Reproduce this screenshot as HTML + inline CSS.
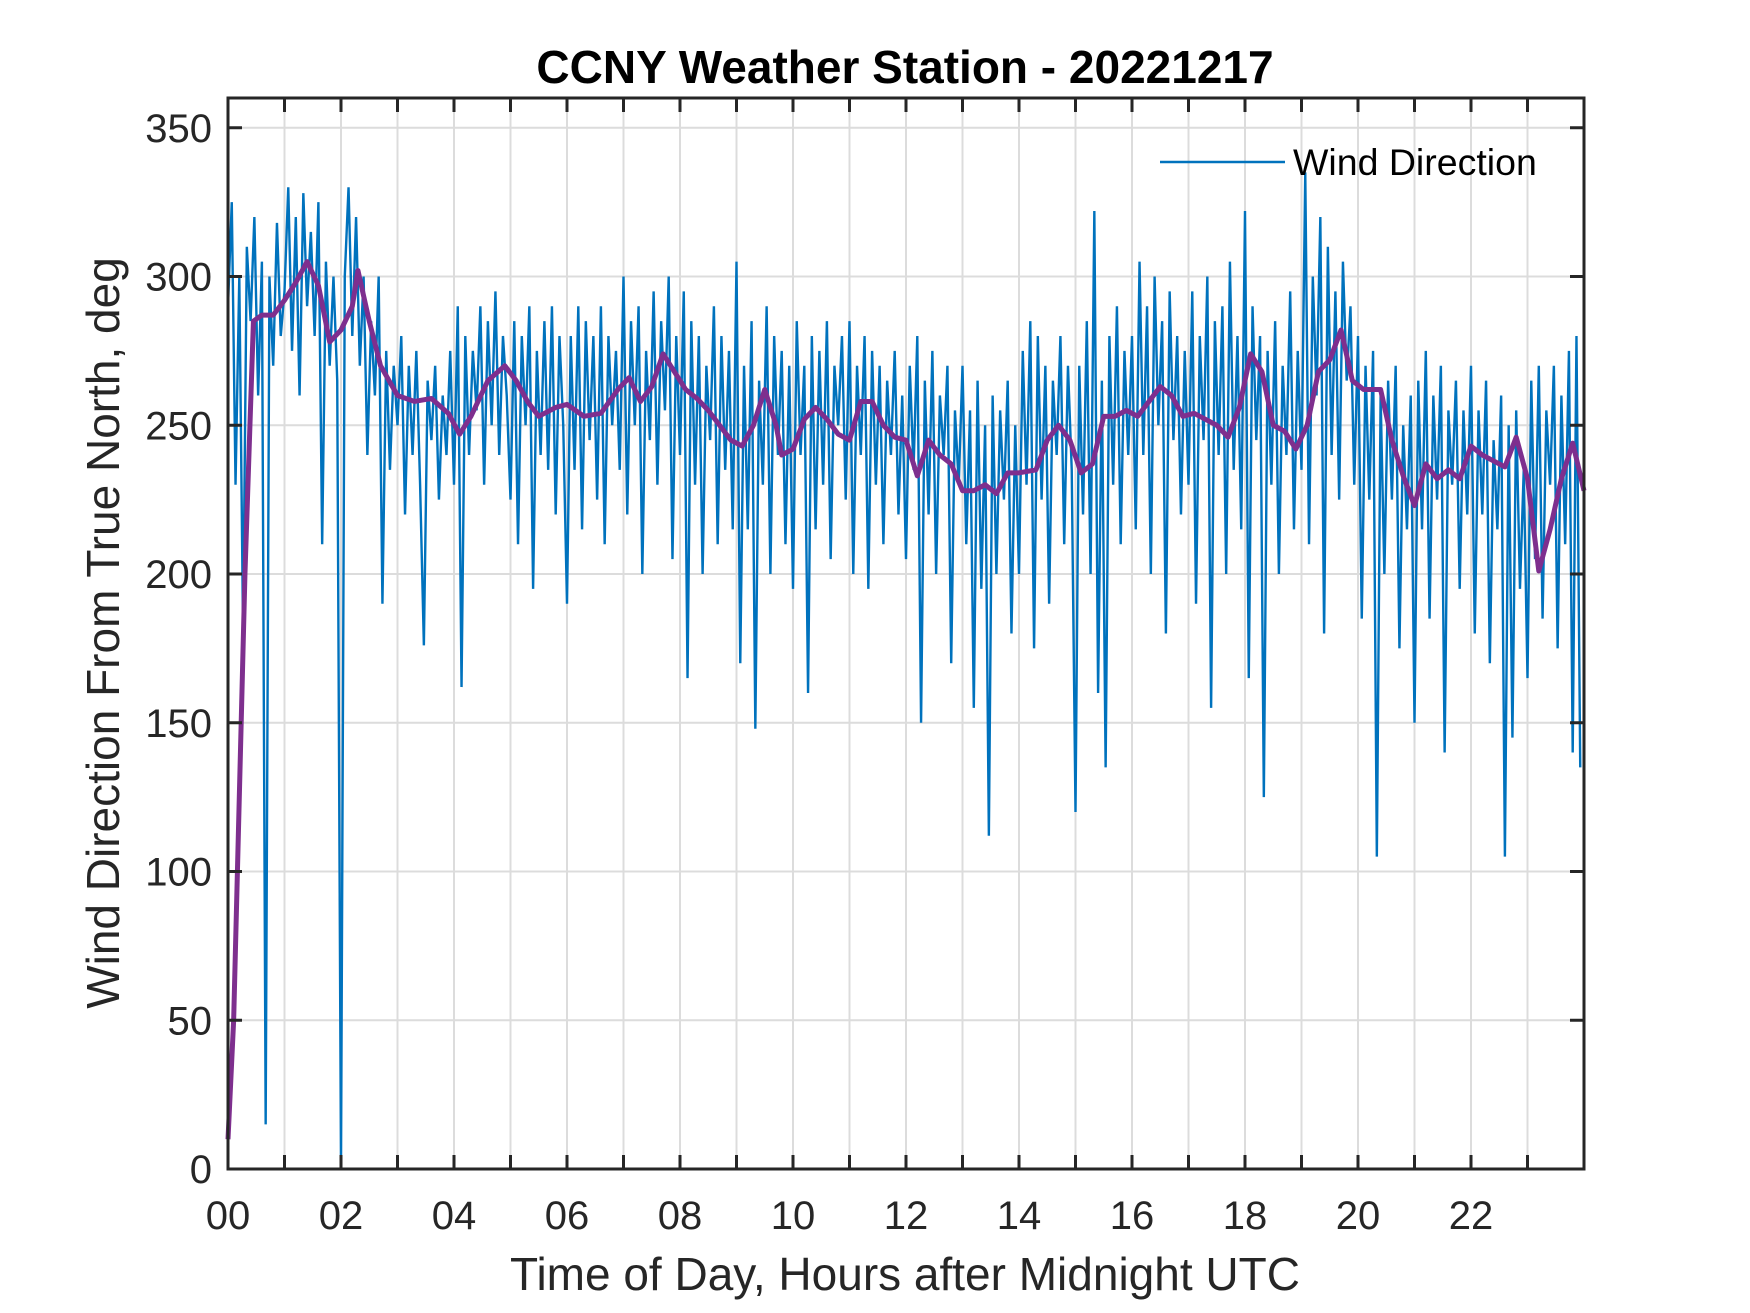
<!DOCTYPE html>
<html><head><meta charset="utf-8"><style>
html,body{margin:0;padding:0;background:#fff}
svg{display:block;font-family:"Liberation Sans",Arial,sans-serif}
</style></head><body>
<svg id="chart" width="1750" height="1313" viewBox="0 0 1750 1313">
<rect width="1750" height="1313" fill="#fff"/>
<g id="grid"></g>
<g id="series"></g>
<g id="axes"></g>
<text x="905" y="83" text-anchor="middle" font-size="46" font-weight="bold" fill="#000">CCNY Weather Station - 20221217</text>
<text x="905" y="1290" text-anchor="middle" font-size="46" fill="#262626">Time of Day, Hours after Midnight UTC</text>
<text transform="translate(119,633) rotate(-90)" text-anchor="middle" font-size="46" fill="#262626">Wind Direction From True North, deg</text>
<g>
<line x1="1160" y1="162" x2="1285" y2="162" stroke="#0072BD" stroke-width="2.5"/>
<text x="1293" y="175" font-size="37.5" fill="#000">Wind Direction</text>
</g>
</svg>
<script>
const xTickLabels=["00","02","04","06","08","10","12","14","16","18","20","22"];
const yTickLabels=[0,50,100,150,200,250,300,350];
const windRaw=[
290,325,230,300,180,310,285,320,260,305,15,300,270,318,280,
295,330,275,320,260,328,290,315,280,325,210,305,270,300,265,
0,300,330,280,320,270,300,240,285,260,300,190,275,235,270,
250,280,220,270,240,275,230,176,265,245,270,225,260,240,275,
230,290,162,280,240,275,255,290,230,285,250,295,240,280,260,
225,285,210,280,250,290,195,275,240,285,235,290,220,280,250,
190,280,235,290,215,285,245,280,225,290,210,280,250,275,235,
300,220,285,250,290,200,275,245,295,230,285,255,300,205,280,
240,295,165,285,230,280,200,270,245,290,210,280,235,275,215,
305,170,270,215,285,148,265,230,290,200,280,240,275,210,270,
195,285,240,270,160,280,215,275,230,285,205,270,250,280,225,
285,200,270,240,280,195,275,230,270,210,265,240,275,220,260,
205,270,235,280,150,265,220,275,200,260,240,270,170,255,230,
270,210,255,155,265,195,250,112,260,200,255,225,265,180,250,
200,275,230,285,175,280,225,270,190,265,240,280,210,270,235,
120,270,220,285,200,322,160,265,135,280,230,290,210,275,240,
280,215,305,240,290,200,300,250,285,180,295,245,280,220,275,
230,295,190,280,245,300,155,285,240,290,200,305,235,280,215,
322,165,290,245,280,125,275,230,285,200,270,240,295,215,275,
235,335,210,300,260,320,180,310,240,295,225,305,265,290,230,
280,185,270,225,275,105,260,200,265,225,270,175,250,215,260,
150,265,215,275,185,260,225,270,140,255,230,265,195,255,220,
270,180,255,220,265,170,245,215,260,105,250,145,255,195,235,
165,265,205,270,185,255,230,270,175,260,210,275,140,280,135];
const avgHours=[0,0.1,0.3,0.45,0.6,0.8,1,1.2,1.4,1.6,1.8,2,2.2,2.3,2.5,2.7,3,3.3,3.6,3.9,4.1,4.3,4.6,4.9,5.1,5.3,5.5,5.8,6,6.3,6.6,6.9,7.1,7.3,7.5,7.7,7.9,8.1,8.3,8.5,8.7,8.9,9.1,9.3,9.5,9.7,9.8,10,10.2,10.4,10.6,10.8,11,11.2,11.4,11.6,11.8,12,12.2,12.4,12.6,12.8,13,13.2,13.4,13.6,13.8,14,14.3,14.5,14.7,14.9,15.1,15.3,15.5,15.7,15.9,16.1,16.3,16.5,16.7,16.9,17.1,17.3,17.5,17.7,17.9,18.1,18.3,18.5,18.7,18.9,19.1,19.3,19.5,19.7,19.9,20.1,20.4,20.6,20.8,21,21.2,21.4,21.6,21.8,22,22.2,22.4,22.6,22.8,23,23.2,23.4,23.6,23.8,24];
const avgValues=[10,50,200,285,287,287,292,298,305,297,278,282,290,302,285,270,260,258,259,254,247,253,265,270,265,258,253,256,257,253,254,262,266,258,263,274,268,262,259,255,250,245,243,250,262,250,240,242,252,256,252,247,245,258,258,250,246,245,233,245,240,237,228,228,230,227,234,234,235,245,250,245,234,237,253,253,255,253,258,263,260,253,254,252,250,246,256,274,268,250,248,242,250,268,272,282,265,262,262,245,233,223,237,232,235,232,243,240,238,236,246,232,201,215,232,244,228];

const NS="http://www.w3.org/2000/svg";
const L=228,R=1584,T=98,B=1169;
const xs=h=>L+(h/24)*(R-L);
const ys=v=>B-(v/360)*(B-T);
const grid=document.getElementById('grid'),axes=document.getElementById('axes'),series=document.getElementById('series');
function mk(tag,attrs,parent){const e=document.createElementNS(NS,tag);for(const k in attrs)e.setAttribute(k,attrs[k]);parent.appendChild(e);return e;}
for(let h=1;h<24;h++){
  const g=mk('line',{x1:xs(h),x2:xs(h),y1:T,y2:B,stroke:'#dcdcdc','stroke-width':2},grid);
  
  
}
yTickLabels.forEach(v=>{
  if(v>0){const g=mk('line',{x1:L,x2:R,y1:ys(v),y2:ys(v),stroke:'#dcdcdc','stroke-width':2},grid);
  
  }
  const t=mk('text',{x:L-16,y:ys(v)+14,'text-anchor':'end','font-size':40,fill:'#262626'},axes);
  t.textContent=v;
  
  
  [[L,L+14],[R,R-14]].forEach(p=>{const k=mk('line',{x1:p[0],x2:p[1],y1:ys(v),y2:ys(v),stroke:'#262626','stroke-width':3},axes);
  
  });
});
for(let h=0;h<24;h++){
  [[B,B-14],[T,T+14]].forEach(p=>{const k=mk('line',{x1:xs(h),x2:xs(h),y1:p[0],y2:p[1],stroke:'#262626','stroke-width':3},axes);
  
  });
}
xTickLabels.forEach((s,i)=>{
  const t=mk('text',{x:xs(i*2),y:1229,'text-anchor':'middle','font-size':40,fill:'#262626'},axes);
  t.textContent=s;
  
  
});
const fr=mk('rect',{x:L,y:T,width:R-L,height:B-T,fill:'none',stroke:'#262626','stroke-width':3},axes);


const n=windRaw.length;
const raw=mk('polyline',{points:windRaw.map((v,i)=>xs(i*24/n)+','+ys(v)).join(' '),fill:'none',stroke:'#0072BD','stroke-width':2.4,'stroke-linejoin':'miter'},series);


const avg=mk('polyline',{points:avgValues.map((v,i)=>xs(avgHours[i])+','+ys(v)).join(' '),fill:'none',stroke:'#7E2F8E','stroke-width':5,'stroke-linejoin':'round'},series);


</script>
</body></html>
